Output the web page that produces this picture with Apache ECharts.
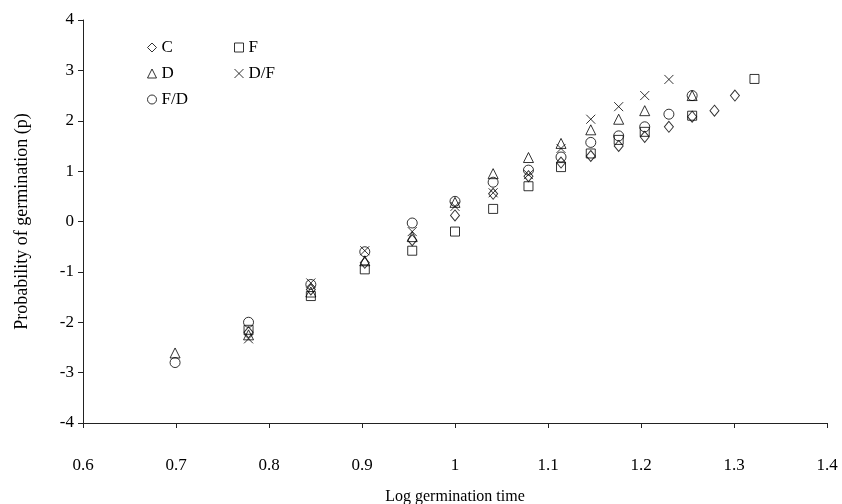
<!DOCTYPE html>
<html>
<head>
<meta charset="utf-8">
<script src="https://cdn.jsdelivr.net/npm/echarts@6/dist/echarts.min.js"></script>
<style>html,body{margin:0;padding:0;background:#fff}#c{width:842px;height:504px}</style>
</head>
<body>
<div id="c"></div>
<script>
// Log germination time values (x)
var xC  = [0.778, 0.845, 0.903, 0.954, 1.000, 1.041, 1.079, 1.114, 1.146, 1.176, 1.204, 1.230, 1.255, 1.279, 1.301];
var yC  = [-2.20, -1.35, -0.82, -0.37, 0.12, 0.55, 0.90, 1.17, 1.30, 1.50, 1.68, 1.88, 2.08, 2.20, 2.50];

var xF  = [0.778, 0.845, 0.903, 0.954, 1.000, 1.041, 1.079, 1.114, 1.146, 1.176, 1.204, 1.255, 1.322];
var yF  = [-2.15, -1.48, -0.95, -0.58, -0.20, 0.25, 0.70, 1.08, 1.35, 1.62, 1.78, 2.10, 2.83];

var xD  = [0.699, 0.778, 0.845, 0.903, 0.954, 1.000, 1.041, 1.079, 1.114, 1.146, 1.176, 1.204, 1.255];
var yD  = [-2.61, -2.25, -1.40, -0.78, -0.30, 0.38, 0.95, 1.27, 1.55, 1.82, 2.03, 2.20, 2.50];

var xDF = [0.778, 0.845, 0.903, 0.954, 1.000, 1.041, 1.079, 1.114, 1.146, 1.176, 1.204, 1.230];
var yDF = [-2.33, -1.22, -0.58, -0.20, 0.30, 0.57, 0.93, 1.45, 2.03, 2.28, 2.50, 2.82];

var xFD = [0.699, 0.778, 0.845, 0.903, 0.954, 1.000, 1.041, 1.079, 1.114, 1.146, 1.176, 1.204, 1.230, 1.255];
var yFD = [-2.80, -2.00, -1.25, -0.60, -0.03, 0.40, 0.78, 1.02, 1.28, 1.57, 1.70, 1.88, 2.13, 2.50];

var xTicks = [0.6, 1.4, 0.1];
var yTicks = [-4, 4, 1];

function pairs(xs, ys){ return xs.map(function(x,i){ return [x, ys[i]]; }); }

var FONT = '"Liberation Serif", "DejaVu Serif", serif';
var crossPath = 'path://M0,0L10,10M10,0L0,10';

function mk(name, xs, ys, symbol, size){
  return {
    name: name, type: 'scatter', data: pairs(xs, ys),
    symbol: symbol, symbolSize: size,
    itemStyle: { color: 'rgba(255,255,255,0)', borderColor: '#000', borderWidth: 1 },
    emphasis: { disabled: true }
  };
}

var legendCommon = {
  orient: 'vertical', top: 34, itemWidth: 9, itemHeight: 9, itemGap: 9,
  itemStyle: { borderWidth: 1, borderColor: '#000', color: 'rgba(255,255,255,0)' },
  textStyle: { fontFamily: FONT, fontSize: 17, color: '#000' }, selectedMode: false
};

var chart = echarts.init(document.getElementById('c'), null, {renderer: 'canvas'});
chart.setOption({
  animation: false,
  backgroundColor: '#fff',
  grid: { left: 83, right: 15, top: 20, bottom: 81, containLabel: false, outerBoundsMode: 'none' },
  legend: [
    Object.assign({ data: ['C', 'D', 'F/D'], left: 142 }, legendCommon),
    Object.assign({ data: ['F', 'D/F'], left: 229 }, legendCommon)
  ],
  xAxis: {
    type: 'value', min: xTicks[0], max: xTicks[1], interval: xTicks[2],
    name: 'Log germination time', nameLocation: 'middle', nameGap: 66,
    nameTextStyle: { fontFamily: FONT, fontSize: 16, color: '#000' },
    axisLine: { show: true, onZero: false, lineStyle: { color: '#222', width: 1 } },
    axisTick: { show: true, length: 5, lineStyle: { color: '#222' } },
    axisLabel: { fontFamily: FONT, fontSize: 17, color: '#000', margin: 34,
      formatter: function(v){ return String(Math.round(v*10)/10); } },
    splitLine: { show: false }
  },
  yAxis: {
    type: 'value', min: yTicks[0], max: yTicks[1], interval: yTicks[2],
    name: 'Probability of germination (p)', nameLocation: 'middle', nameGap: 52,
    nameTextStyle: { fontFamily: FONT, fontSize: 18, color: '#000' },
    axisLine: { show: true, onZero: false, lineStyle: { color: '#222', width: 1 } },
    axisTick: { show: true, length: 5, lineStyle: { color: '#222' } },
    axisLabel: { fontFamily: FONT, fontSize: 17, color: '#000', margin: 9 },
    splitLine: { show: false }
  },
  series: [
    mk('C', xC, yC, 'diamond', [9, 11]),
    mk('F', xF, yF, 'rect', 9),
    mk('D', xD, yD, 'triangle', 10),
    mk('D/F', xDF, yDF, crossPath, 9),
    mk('F/D', xFD, yFD, 'circle', 10)
  ]
});
</script>
</body>
</html>
